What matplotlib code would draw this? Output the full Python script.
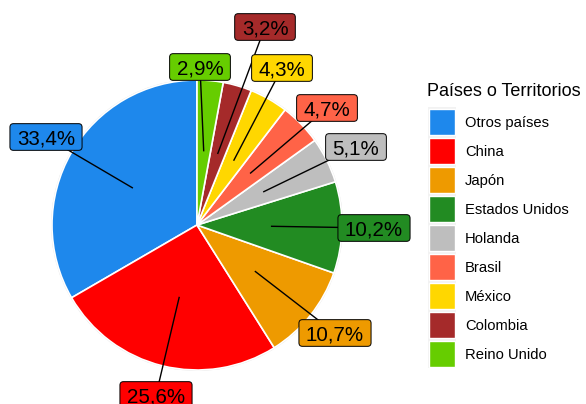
import matplotlib
matplotlib.use("Agg")
import matplotlib.pyplot as plt
from matplotlib.patches import FancyBboxPatch, Rectangle, Circle
import numpy as np

# ---- data ----
categories = ["Otros países", "China", "Japón", "Estados Unidos", "Holanda",
              "Brasil", "México", "Colombia", "Reino Unido"]
values = [33.4, 25.6, 10.7, 10.2, 5.1, 4.7, 4.3, 3.2, 2.9]
value_labels = ["33,4%", "25,6%", "10,7%", "10,2%", "5,1%", "4,7%", "4,3%", "3,2%", "2,9%"]
colors = ["#1E88EC", "#FF0000", "#EE9A00", "#228B22", "#BEBEBE",
          "#FF6347", "#FFD700", "#A52A2A", "#66CD00"]
legend_title = "Países o Territorios"

# ---- layout (pixels) ----
W, H = 586, 404
CX, CY, R = 197, 225, 145
label_centers_px = [(46, 137), (156, 395), (335, 333), (374, 228), (356, 147),
                    (327, 108), (282, 68), (265, 27), (200, 67)]
FONT = "Liberation Sans"
LABEL_FS = 14.75

fig = plt.figure(figsize=(W / 100, H / 100), dpi=100)
ax = fig.add_axes([0, 0, 1, 1])
wedges, _ = ax.pie(values, colors=colors, startangle=90, counterclock=True, radius=1,
                   wedgeprops=dict(edgecolor="white", linewidth=1.2))
ax.add_patch(Circle((0, 0), 1.003, fill=False, edgecolor="#E3E3E3", lw=0.8, zorder=0))
ax.set_xlim(-CX / R, (W - CX) / R)
ax.set_ylim(-(H - CY) / R, CY / R)
ax.axis("off")


def px2d(px, py):
    return (px - CX) / R, (CY - py) / R


total = sum(values)
cum = np.cumsum(values)
em_px = LABEL_FS * 100 / 72
cap = 0.716 * em_px
texts = []
for i, v in enumerate(values):
    mid = np.deg2rad(90 + 360 * (cum[i] - v / 2) / total)
    axx, axy = 0.51 * np.cos(mid), 0.51 * np.sin(mid)
    lx, ly = px2d(*label_centers_px[i])
    ax.plot([axx, lx], [axy, ly], color="black", lw=1.0, zorder=3, solid_capstyle="butt")
    bx, by = px2d(label_centers_px[i][0], label_centers_px[i][1] + cap / 2)
    t = ax.text(bx, by, value_labels[i], ha="center", va="baseline", fontsize=LABEL_FS,
                family=FONT, color="black", zorder=6)
    texts.append(t)

fig.canvas.draw()
renderer = fig.canvas.get_renderer()
for i, t in enumerate(texts):
    w = t.get_window_extent(renderer).width
    bw, bh = w + 14, cap + 12
    cxp, cyp = label_centers_px[i]
    x0, y0 = px2d(cxp - bw / 2, cyp + bh / 2)
    box = FancyBboxPatch((x0, y0), bw / R, bh / R,
                         boxstyle="round,pad=0,rounding_size=%f" % (3.5 / R),
                         facecolor=colors[i], edgecolor="black", lw=0.7, zorder=5)
    ax.add_patch(box)

# ---- legend ----
lax = fig.add_axes([0, 0, 1, 1], zorder=2)
lax.set_xlim(0, W)
lax.set_ylim(H, 0)
lax.axis("off")
lax.text(427, 96.5, legend_title, fontsize=13, family=FONT, va="baseline", ha="left")
pitch = 29
top0 = 107
lax.add_patch(Rectangle((427.5, top0), 28, pitch * len(categories),
                        facecolor="#F2F2F2", edgecolor="none"))
for i, (cat, col) in enumerate(zip(categories, colors)):
    top = top0 + pitch * i
    lax.add_patch(Rectangle((428.5, top + 1.5), 26, pitch - 3, facecolor=col,
                            edgecolor="white", lw=1.0))
    lax.text(465, top + 14.5 + 5.4, cat, fontsize=10.6, family=FONT, va="baseline", ha="left")

fig.savefig("out.png", dpi=100)
